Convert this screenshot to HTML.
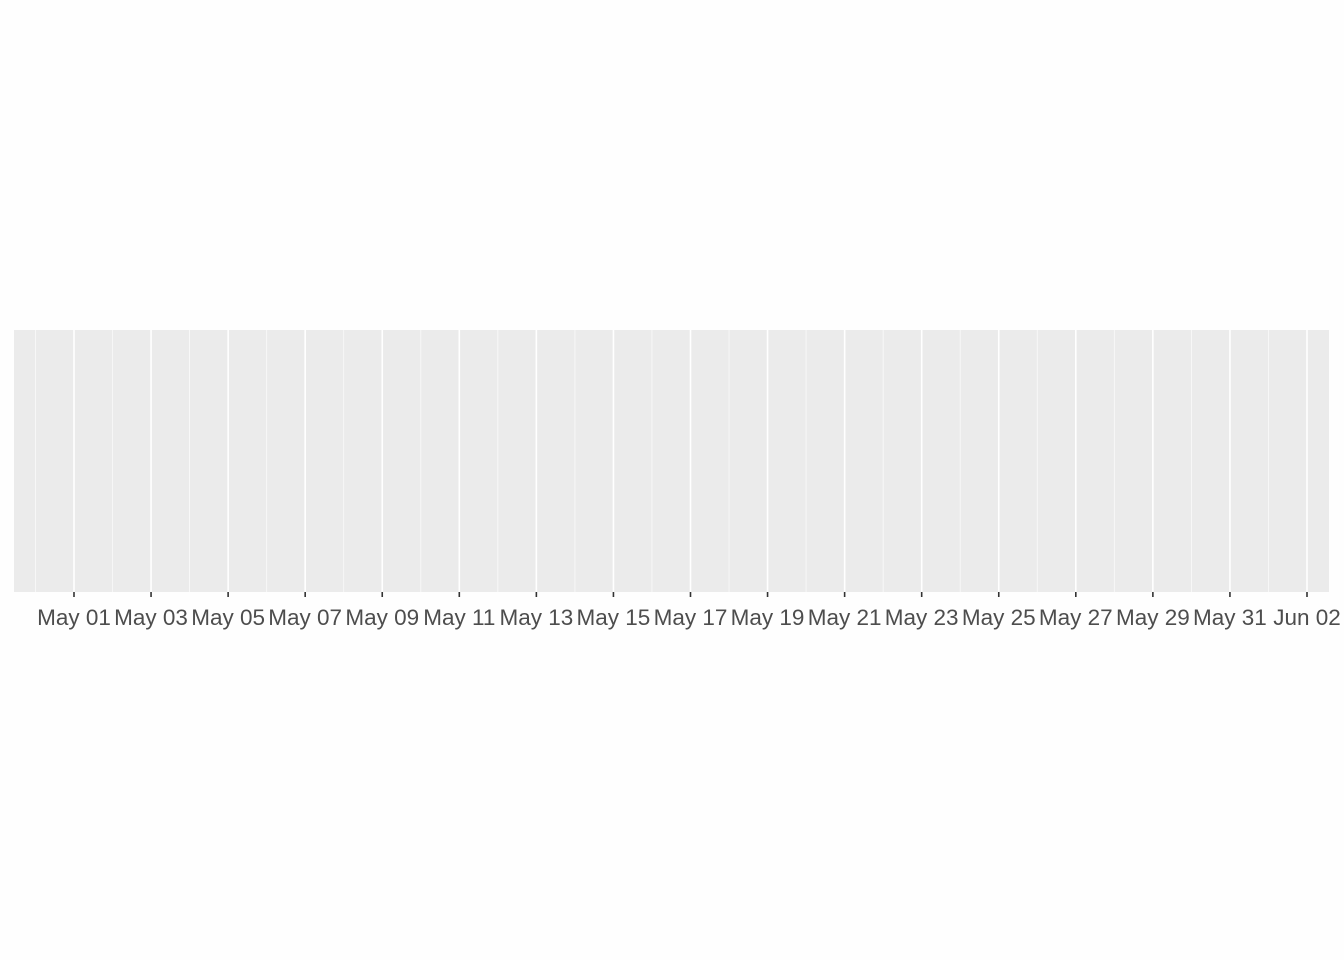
<!DOCTYPE html>
<html><head><meta charset="utf-8"><style>
html,body{margin:0;padding:0;background:#fefefe;}
svg{display:block;}
text{font-family:"Liberation Sans",Arial,sans-serif;}
</style></head><body>
<svg id="chart" width="1344" height="960">
<rect x="14" y="330" width="1315" height="262" fill="#ebebeb"/>
<g id="grid"></g>
<g id="xaxis"></g>
</svg>
<script>
const tickLabels = ["May 01","May 03","May 05","May 07","May 09","May 11","May 13","May 15","May 17","May 19","May 21","May 23","May 25","May 27","May 29","May 31","Jun 02"];
const tickDays = [1,3,5,7,9,11,13,15,17,19,21,23,25,27,29,31,33];
const domainDays = [-0.557, 33.571];
const range = [14, 1329];
const NS = "http://www.w3.org/2000/svg";
function x(d){return range[0] + (d-domainDays[0])/(domainDays[1]-domainDays[0])*(range[1]-range[0]);}
const grid = document.getElementById('grid');
const ax = document.getElementById('xaxis');
function line(p, x1,y1,x2,y2,stroke,w,name){
  const l=document.createElementNS(NS,'line');
  l.setAttribute('x1',x1);l.setAttribute('y1',y1);l.setAttribute('x2',x2);l.setAttribute('y2',y2);
  l.setAttribute('stroke',stroke);l.setAttribute('stroke-width',w);
  
  
  p.appendChild(l);
}
for(let i=0;i<=tickDays.length;i++){
  const d = (i===0? tickDays[0]-1 : tickDays[i-1]+1);
  const xv = x(d);
  if(xv>range[0] && xv<range[1]) line(grid,xv,330,xv,592,'#fafafa',0.8,'minor-gridline');
}
tickDays.forEach((d,i)=>{
  const xv = x(d);
  line(grid,xv,330,xv,592,'#ffffff',1.6,'major-gridline');
  line(ax,xv,592,xv,597,'#333333',1.6,'x-tick');
  const t=document.createElementNS(NS,'text');
  t.setAttribute('x',xv);t.setAttribute('y',625);
  t.setAttribute('text-anchor','middle');t.setAttribute('font-size','22.5');
  t.setAttribute('fill','#4d4d4d');
  t.textContent=tickLabels[i];
  
  
  ax.appendChild(t);
});
</script>
</body></html>
